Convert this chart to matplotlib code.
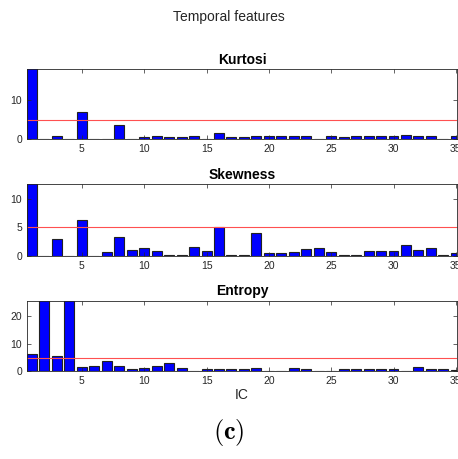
import matplotlib
matplotlib.use("Agg")
import matplotlib.pyplot as plt
import numpy as np

plt.rcParams['font.family'] = ['Liberation Sans', 'DejaVu Sans']
plt.rcParams['mathtext.fontset'] = 'cm'

ic = np.arange(1, 36)
kurtosi = [19.0, 0.0, 0.95, 0.0, 7.0, 0.1, 0.1, 3.6, 0.2, 0.6, 0.9, 0.6, 0.6, 0.9, 0.1,
           1.6, 0.6, 0.6, 0.8, 0.8, 0.8, 0.8, 0.9, 0.2, 0.8, 0.7, 0.8, 0.8, 0.8, 0.8,
           1.1, 0.9, 0.9, 0.2, 0.9]
skewness = [13.0, 0.0, 2.9, 0.0, 6.3, 0.0, 0.6, 3.3, 1.0, 1.3, 0.8, 0.05, 0.1, 1.5, 0.9,
            5.0, 0.05, 0.05, 4.0, 0.55, 0.4, 0.6, 1.1, 1.4, 0.6, 0.2, 0.2, 0.8, 0.8, 0.8,
            1.8, 1.0, 1.3, 0.2, 0.5]
entropy = [6.3, 27.0, 5.4, 27.0, 1.7, 2.0, 3.7, 1.9, 0.8, 1.3, 2.0, 3.1, 1.1, 0.1, 0.8,
           0.8, 1.0, 0.8, 1.1, 0.05, 0.3, 1.1, 1.0, 0.1, 0.3, 0.8, 0.8, 0.7, 1.0, 1.0,
           0.05, 1.4, 1.0, 1.0, 0.6]
titles = ["Kurtosi", "Skewness", "Entropy"]
ylims = [18, 12.6, 25.7]
yticks = [[0, 10], [0, 5, 10], [0, 10, 20]]
threshold = 5
xticks = [5, 10, 15, 20, 25, 30, 35]

fig = plt.figure(figsize=(4.58, 4.59), dpi=100)
positions = [[0.059, 0.6965, 0.939, 0.1525],
             [0.059, 0.443, 0.939, 0.1556],
             [0.059, 0.191, 0.939, 0.1538]]

for pos, data, title, yl, yt in zip(positions, [kurtosi, skewness, entropy], titles, ylims, yticks):
    ax = fig.add_axes(pos)
    ax.bar(ic, data, width=0.8, color='#0000ff', edgecolor='#222222', linewidth=0.8)
    ax.axhline(threshold, color='#ff5050', linewidth=0.8)
    ax.set_xlim(0.6, 35.1)
    ax.set_ylim(0, yl)
    ax.set_xticks(xticks)
    ax.set_yticks(yt)
    ax.tick_params(direction='in', top=True, right=True, labelsize=7.5,
                   length=3, width=0.5, colors='#262626', labelcolor='#262626')
    for s in ax.spines.values():
        s.set_linewidth(0.6)
        s.set_color('#262626')
    ax.set_title(title, fontsize=10, fontweight='bold', pad=4)

fig.axes[-1].set_xlabel("IC", fontsize=10, labelpad=1, color='#262626')
fig.text(0.5, 0.962, "Temporal features", ha='center', va='center', fontsize=10, color='#262626')
fig.text(0.5, 0.058, r'$\mathbf{(c)}$', ha='center', va='center', fontsize=19)

fig.savefig("out.png", dpi=100)
